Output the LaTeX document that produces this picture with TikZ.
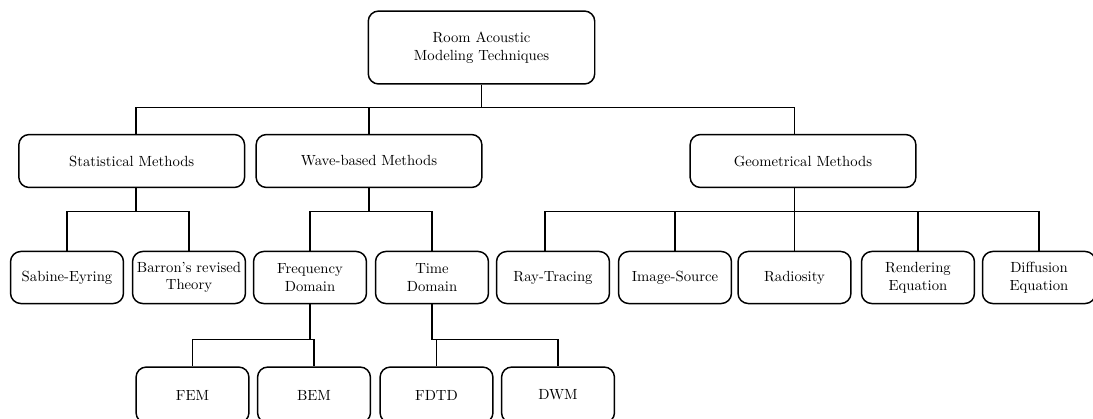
\documentclass[tikz,border=0pt]{standalone}
\usepackage{tikz}
\usetikzlibrary{positioning, calc}

\begin{document}
\begin{tikzpicture}[x=0.68pt, y=-0.68pt,
  box/.style={draw, rounded corners=7pt, line width=1pt, align=center, inner sep=0pt},
  topbox/.style={box, minimum width=154pt, minimum height=49.6pt},
  methodbox/.style={box, minimum width=153.5pt, minimum height=36pt},
  leafbox/.style={box, minimum width=76.8pt, minimum height=35.4pt},
  lowbox/.style={leafbox, minimum height=38pt},
  link/.style={draw, line width=0.9pt}]

  \useasboundingbox (0,0) rectangle (1093,418);
  \clip (0,0) rectangle (1093,418);

  % top
  \node[topbox] (root) at (481.5,47.5) {Room Acoustic\\Modeling Techniques};

  % method families
  \node[methodbox] (stat) at (131.7,161) {Statistical Methods};
  \node[methodbox] (wave) at (369,161) {Wave-based Methods};
  \node[methodbox] (geom) at (803,161) {Geometrical Methods};

  % second level
  \node[leafbox] (sabine) at (67,277.5) {Sabine-Eyring};
  \node[leafbox] (barron) at (189,277.5) {Barron's revised\\Theory};
  \node[leafbox] (freq) at (310,277.5) {Frequency\\Domain};
  \node[leafbox] (time) at (432,277.5) {Time\\Domain};
  \node[leafbox] (ray) at (553,277.5) {Ray-Tracing};
  \node[leafbox] (image) at (675,277.5) {Image-Source};
  \node[leafbox] (radio) at (794.5,277.5) {Radiosity};
  \node[leafbox] (render) at (918,277.5) {Rendering\\Equation};
  \node[leafbox] (diffus) at (1039,277.5) {Diffusion\\Equation};

  % third level (cut by the page edge)
  \node[lowbox] (fem) at (192.5,395) {FEM};
  \node[lowbox] (bem) at (314,395) {BEM};
  \node[lowbox] (fdtd) at (436.5,395) {FDTD};
  \node[lowbox] (dwm) at (558,395) {DWM};

  % connectors
  \draw[link] (root.south) -- ++(0,23) -| ([xshift=3pt]stat.north);
  \draw[link] (root.south) -- ++(0,23) -| (wave.north);
  \draw[link] (root.south) -- ++(0,23) -| ([xshift=-6pt]geom.north);

  \foreach \kid in {sabine, barron}
    \draw[link] ([xshift=3pt]stat.south) -- ++(0,23) -| (\kid.north);
  \foreach \kid in {freq, time}
    \draw[link] (wave.south) -- ++(0,23) -| (\kid.north);
  \draw[link] ([xshift=-6pt]geom.south) -- ++(0,23) -| ([xshift=-5.5pt]ray.north);
  \foreach \kid in {image, radio, render, diffus}
    \draw[link] ([xshift=-6pt]geom.south) -- ++(0,23) -| (\kid.north);

  \foreach \kid in {fem, bem}
    \draw[link] (freq.south) -- ++(0,35) -| (\kid.north);
  \foreach \kid in {fdtd, dwm}
    \draw[link] (time.south) -- ++(0,35) -| (\kid.north);

\end{tikzpicture}
\end{document}
